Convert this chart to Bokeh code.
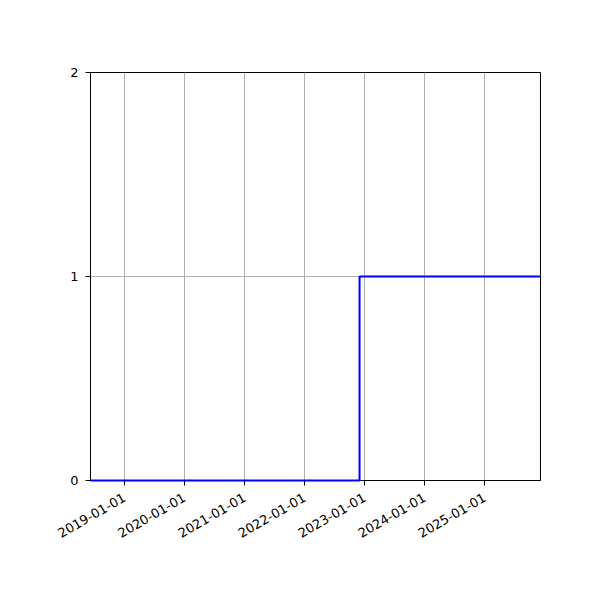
import math
from datetime import datetime
from bokeh.plotting import figure
from bokeh.models import Range1d, FixedTicker, DatetimeTickFormatter
from bokeh.embed import file_html
from bokeh.resources import INLINE

# Data
dates = [datetime(2018, 6, 8), datetime(2022, 12, 1), datetime(2025, 12, 6)]
values = [0, 1, 1]
x_tick_years = [2019, 2020, 2021, 2022, 2023, 2024, 2025]
y_ticks = [0, 1, 2]

FONT = "DejaVu Sans"
FSIZE = "13px"

def ms(d):
    return (d - datetime(1970, 1, 1)).total_seconds() * 1000.0

p = figure(width=600, height=600, x_axis_type="datetime",
           output_backend="svg", toolbar_location=None,
           min_border_left=90, min_border_right=60,
           min_border_top=72, min_border_bottom=120)
p.x_range = Range1d(dates[0], dates[-1])
p.y_range = Range1d(0, 2)

p.step(dates, values, mode="after", line_color="#0000ff", line_width=2,
       level="overlay")

fmt = "%Y-%m-%d"
p.xaxis.ticker = FixedTicker(ticks=[ms(datetime(y, 1, 1)) for y in x_tick_years])
p.xaxis.formatter = DatetimeTickFormatter(milliseconds=fmt, seconds=fmt, minsec=fmt,
                                          minutes=fmt, hourmin=fmt, hours=fmt,
                                          days=fmt, months=fmt, years=fmt)
p.xaxis.major_label_orientation = math.pi / 6
p.yaxis.ticker = FixedTicker(ticks=y_ticks)

for ax in (p.xaxis[0], p.yaxis[0]):
    ax.major_label_text_font = FONT
    ax.major_label_text_font_size = FSIZE
    ax.major_label_text_color = "black"
    ax.axis_line_color = "black"
    ax.axis_line_width = 1
    ax.major_tick_line_color = "black"
    ax.major_tick_out = 5
    ax.major_tick_in = 0
    ax.minor_tick_line_color = None
p.xaxis.major_label_standoff = 11
p.yaxis.major_label_standoff = 7

p.grid.grid_line_color = "#b0b0b0"
p.grid.grid_line_width = 1
p.outline_line_color = "black"
p.outline_line_width = 1
p.outline_line_alpha = 1
p.background_fill_color = "white"
p.border_fill_color = "white"

open("out.html", "w").write(file_html(p, INLINE))
